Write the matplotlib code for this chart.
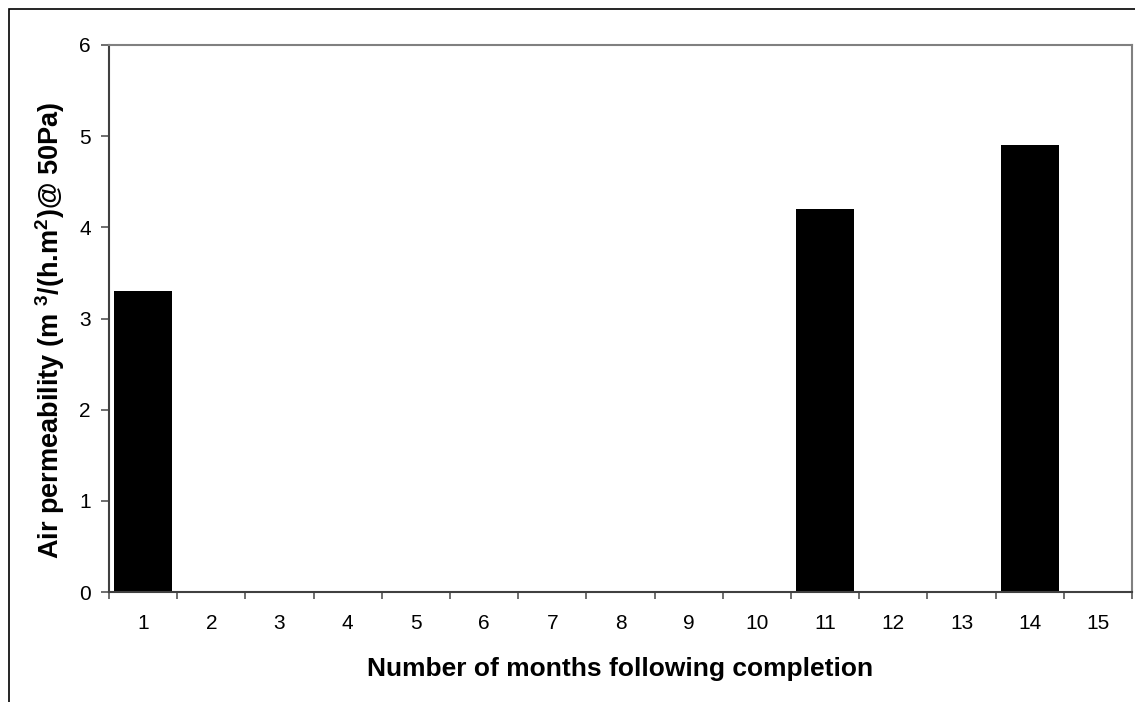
import matplotlib
matplotlib.use("Agg")
import matplotlib.pyplot as plt
from matplotlib.patches import Rectangle
import numpy as np

# données
months = list(range(1, 16))
permeability = [3.3, 0, 0, 0, 0, 0, 0, 0, 0, 0, 4.2, 0, 0, 4.9, 0]
yticks = [0, 1, 2, 3, 4, 5, 6]

plt.rcParams["font.family"] = ["Liberation Sans", "DejaVu Sans"]
plt.rcParams["mathtext.fontset"] = "custom"
plt.rcParams["mathtext.rm"] = "Liberation Sans"
plt.rcParams["mathtext.bf"] = "Liberation Sans:bold"

W, H = 1135, 702
fig = plt.figure(figsize=(W / 100, H / 100), dpi=100)
ax = fig.add_axes([109 / W, 1 - 592 / H, (1132 - 109) / W, (592 - 45) / H])

# cadre extérieur (coupé à droite et en bas)
fig.patches.append(Rectangle((9 / W, -0.2), 1.2, 1 - 9 / H + 0.2,
                             transform=fig.transFigure, fill=False,
                             edgecolor="black", lw=1.2))

ax.bar(months, permeability, width=0.85, color="black", edgecolor="none")

ax.set_xlim(0.5, 15.5)
ax.set_ylim(0, 6)
ax.set_yticks(yticks)
ax.set_xticks(months)
ax.set_xticks(np.arange(0.5, 16, 1), minor=True)
ax.tick_params(axis="x", which="major", length=0, pad=16, labelsize=15)
ax.tick_params(axis="x", which="minor", length=5, width=1.2, color="#555555")
ax.tick_params(axis="y", length=6, width=1.2, color="#555555", pad=7, labelsize=15)

for s in ["left", "bottom"]:
    ax.spines[s].set_color("#404040")
    ax.spines[s].set_linewidth(1.5)
for s in ["top", "right"]:
    ax.spines[s].set_color("#808080")
    ax.spines[s].set_linewidth(1.5)

fig.text(620 / W, 1 - 669 / H, "Number of months following completion",
         ha="center", va="center", fontsize=19, fontweight="bold")
fig.text(50 / W, 1 - 330 / H,
         r"Air permeability (m $^{\mathbf{3}}$/(h.m$^{\mathbf{2}}$)@ 50Pa)",
         ha="center", va="center", rotation=90, fontsize=19.5, fontweight="bold")

fig.savefig("out.png", dpi=100)
